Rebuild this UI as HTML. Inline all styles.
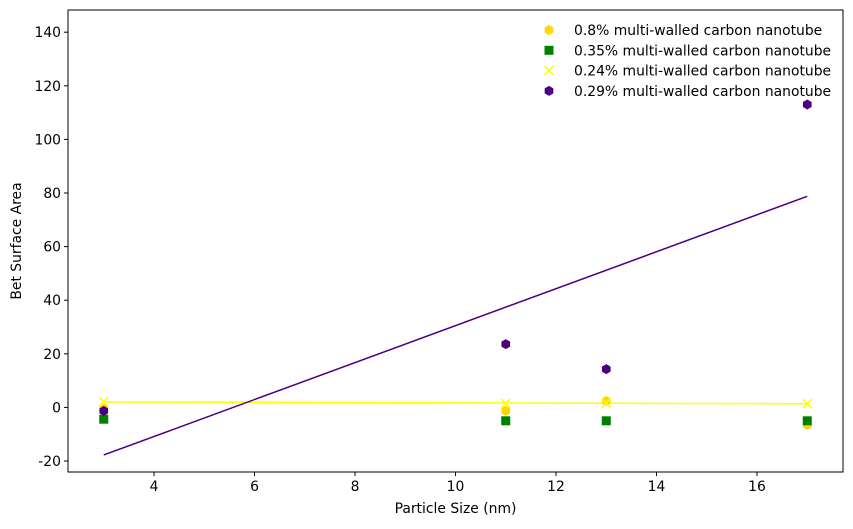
<!DOCTYPE html>
<html><head><meta charset="utf-8"><style>
body{margin:0;background:#fff;font-family:"DejaVu Sans",sans-serif}
text{font-family:"DejaVu Sans",sans-serif;font-size:13.9px;fill:#000}
</style></head><body>
<svg id="c" width="853" height="525" xmlns="http://www.w3.org/2000/svg"></svg>
<script>
const xs=[3,11,13,17];
const gold=[-0.5,-1.3,2.4,-6.5];
const green=[-4.4,-5,-5,-5];
const yel=[2.1,1.5,1.6,1.4];
const purple=[-1.3,23.6,14.3,113];
const xTicks=[4,6,8,10,12,14,16];
const yTicks=[-20,0,20,40,60,80,100,120,140];
const labels=["0.8% multi-walled carbon nanotube","0.35% multi-walled carbon nanotube","0.24% multi-walled carbon nanotube","0.29% multi-walled carbon nanotube"];
const L=68,R=843,T=10,B=472;
const X=v=>154+(v-4)*50.25;
const Y=v=>407.4-v*2.68;
const s=document.getElementById('c');const NS="http://www.w3.org/2000/svg";
function mk(t,a,p){const e=document.createElementNS(NS,t);for(const k in a)e.setAttribute(k,a[k]);(p||s).appendChild(e);return e;}
function fit(y){const n=xs.length,mx=xs.reduce((a,b)=>a+b)/n,my=y.reduce((a,b)=>a+b)/n;let sxy=0,sxx=0;xs.forEach((x,i)=>{sxy+=(x-mx)*(y[i]-my);sxx+=(x-mx)**2});const m=sxy/sxx;return [my+m*(3-mx),my+m*(17-mx)];}
xTicks.forEach(v=>{const g=mk('g',{});

mk('line',{x1:X(v),x2:X(v),y1:B,y2:B+4,stroke:'#000'},g);const t=mk('text',{x:X(v),y:B+19,'text-anchor':'middle'},g);t.textContent=v;});
yTicks.forEach(v=>{const g=mk('g',{});

mk('line',{x1:L-4,x2:L,y1:Y(v),y2:Y(v),stroke:'#000'},g);const t=mk('text',{x:L-7,y:Y(v)+5,'text-anchor':'end'},g);t.textContent=v;});
let t=mk('text',{x:(L+R)/2,y:513,'text-anchor':'middle'});t.textContent='Particle Size (nm)';

t=mk('text',{x:21,y:(T+B)/2,'text-anchor':'middle',transform:`rotate(-90 21 ${(T+B)/2})`});t.textContent='Bet Surface Area';

function hex(cx,cy,r,c,p){let pts=[];for(let i=0;i<6;i++){const a=Math.PI/6+i*Math.PI/3;pts.push((cx+r*Math.cos(a))+','+(cy+r*Math.sin(a)));}return mk('polygon',{points:pts.join(' '),fill:c},p);}
function marker(k,cx,cy,p){if(k==0)return hex(cx,cy,5,'#ffd700',p);if(k==1)return mk('rect',{x:cx-4.5,y:cy-4.5,width:9,height:9,fill:'#008000'},p);
if(k==2){const g=mk('g',{stroke:'#ffff00','stroke-width':1.6},p);mk('line',{x1:cx-4.5,y1:cy-4.5,x2:cx+4.5,y2:cy+4.5},g);mk('line',{x1:cx-4.5,y1:cy+4.5,x2:cx+4.5,y2:cy-4.5},g);return g;}
return hex(cx,cy,5,'#4b0082',p);}
const fy=fit(yel),fp=fit(purple);
let l=mk('line',{x1:X(3),y1:Y(fy[0]),x2:X(17),y2:Y(fy[1]),stroke:'#ffff00','stroke-width':1.5});

l=mk('line',{x1:X(3),y1:Y(fp[0]),x2:X(17),y2:Y(fp[1]),stroke:'#4b0082','stroke-width':1.5});

[gold,green,yel,purple].forEach((ser,k)=>{ser.forEach((v,i)=>{const g=mk('g',{});

marker(k,X(xs[i]),Y(v),g);});});
labels.forEach((lb,k)=>{const g=mk('g',{});

const y=30+k*20.3;marker(k,549,y,g);const tt=mk('text',{x:574,y:y+5},g);tt.textContent=lb;});
const fr=mk('rect',{x:L,y:T,width:R-L,height:B-T,fill:'none',stroke:'#000','stroke-width':1});

</script>
</body></html>
